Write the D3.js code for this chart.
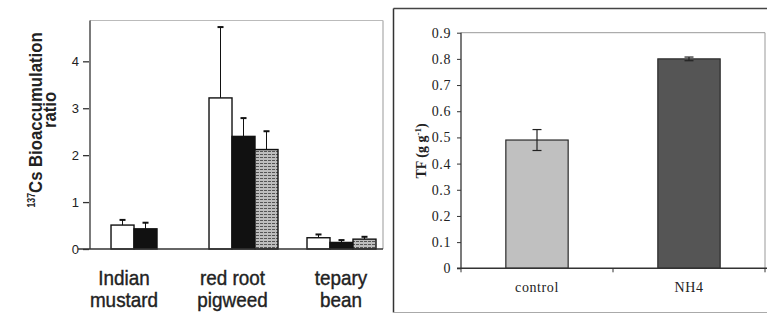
<!DOCTYPE html>
<html>
<head>
<meta charset="utf-8">
<script src="https://cdn.jsdelivr.net/npm/d3@7"></script>
<style>
  body { margin: 0; background: #fff; }
  svg { display: block; }
</style>
</head>
<body>
<svg id="chart"></svg>
<script>
// left panel data: 137Cs bioaccumulation ratio
var plants = ["Indian mustard", "red root pigweed", "tepary bean"];
var plantLines = [["Indian", "mustard"], ["red root", "pigweed"], ["tepary", "bean"]];
var seriesWhite = [0.51, 3.22, 0.24];
var seriesWhiteErr = [0.11, 1.51, 0.07];
var seriesBlack = [0.43, 2.40, 0.14];
var seriesBlackErr = [0.13, 0.39, 0.05];
var seriesGray = [null, 2.12, 0.21];
var seriesGrayErr = [null, 0.39, 0.05];
var leftTicks = [0, 1, 2, 3, 4];

// right panel data: TF
var treatments = ["control", "NH4"];
var tfValues = [0.49, 0.80];
var tfErr = [0.04, 0.007];
var rightTicks = [0, 0.1, 0.2, 0.3, 0.4, 0.5, 0.6, 0.7, 0.8, 0.9];

var width = 767, height = 314;
var svg = d3.select("#chart").attr("width", width).attr("height", height);

// ---------- left panel ----------
var left = {x0: 90, x1: 383, y0: 20.5, y1: 249};
var sans = "'Liberation Sans', Arial, sans-serif";

var defs = svg.append("defs");
var pat = defs.append("pattern")
    .attr("id", "dots")
    .attr("width", 4).attr("height", 3)
    .attr("patternUnits", "userSpaceOnUse");
pat.append("rect").attr("width", 4).attr("height", 3).attr("fill", "#bdbdbd");
pat.append("rect").attr("x", 0).attr("y", 1).attr("width", 3).attr("height", 1).attr("fill", "#555");

var yL = d3.scaleLinear().domain([0, 4.87]).range([left.y1, left.y0]);
var xL = d3.scaleBand().domain(plants).range([left.x0, left.x1])
    .paddingInner(0.296).paddingOuter(0.143).align(0.75);

var series = [
  {name: "a", values: seriesWhite, err: seriesWhiteErr, fill: "#fff"},
  {name: "b", values: seriesBlack, err: seriesBlackErr, fill: "#111"},
  {name: "c", values: seriesGray, err: seriesGrayErr, fill: "url(#dots)"}
];
var xSub = d3.scaleBand().domain(series.map(s => s.name)).range([0, xL.bandwidth()]);

// frame
var gl = svg.append("g");
gl.append("line").attr("x1", left.x0).attr("x2", left.x1).attr("y1", left.y0).attr("y2", left.y0)
    .attr("stroke", "#bbb").attr("stroke-width", 1.2);
gl.append("line").attr("x1", left.x1).attr("x2", left.x1).attr("y1", left.y0).attr("y2", left.y1)
    .attr("stroke", "#bbb").attr("stroke-width", 1.5);

var cells = [];
series.forEach(function(s) {
  plants.forEach(function(p, i) {
    if (s.values[i] !== null) cells.push({plant: p, s: s, v: s.values[i], e: s.err[i]});
  });
});

gl.selectAll("rect.bar").data(cells).enter().append("rect")
    .attr("class", "bar")
    .attr("x", d => xL(d.plant) + xSub(d.s.name))
    .attr("y", d => yL(d.v))
    .attr("width", xSub.bandwidth())
    .attr("height", d => yL(0) - yL(d.v))
    .attr("fill", d => d.s.fill)
    .attr("stroke", "#111")
    .attr("stroke-width", 1.4);

var errG = gl.selectAll("g.err").data(cells).enter().append("g").attr("class", "err")
    .attr("stroke", "#111").attr("stroke-width", 1);
errG.append("line")
    .attr("x1", d => xL(d.plant) + xSub(d.s.name) + xSub.bandwidth() / 2)
    .attr("x2", d => xL(d.plant) + xSub(d.s.name) + xSub.bandwidth() / 2)
    .attr("y1", d => yL(d.v))
    .attr("y2", d => yL(d.v + d.e));
errG.append("line")
    .attr("x1", d => xL(d.plant) + xSub(d.s.name) + xSub.bandwidth() / 2 - 3)
    .attr("x2", d => xL(d.plant) + xSub(d.s.name) + xSub.bandwidth() / 2 + 3)
    .attr("y1", d => yL(d.v + d.e))
    .attr("y2", d => yL(d.v + d.e))
    .attr("stroke-width", 2);

// axes
var yAxisL = gl.append("g")
    .attr("transform", `translate(${left.x0},0)`)
    .call(d3.axisLeft(yL).tickValues(leftTicks).tickSize(7).tickPadding(4).tickFormat(d3.format("d")));
yAxisL.select(".domain").attr("d", `M0,${left.y0}V${left.y1}`).attr("stroke", "#333").attr("stroke-width", 1.3);
yAxisL.selectAll(".tick line").attr("x1", -1).attr("stroke", "#333").attr("stroke-width", 1.3);
yAxisL.selectAll(".tick text").attr("font-family", sans).attr("font-size", 13).attr("fill", "#222");

gl.append("line").attr("x1", left.x0 - 12).attr("x2", left.x1).attr("y1", yL(0)).attr("y2", yL(0))
    .attr("stroke", "#333").attr("stroke-width", 1.5);

// category labels (condensed)
var xLab = d3.scalePoint().domain(plants).range([124, 341]);
var catL = gl.selectAll("text.cat").data(plants).enter().append("text")
    .attr("class", "cat")
    .attr("transform", d => `translate(${xLab(d)},0) scale(0.9,1)`)
    .attr("text-anchor", "middle")
    .attr("font-family", sans)
    .attr("font-size", 21)
    .attr("fill", "#222")
    .attr("stroke", "#222")
    .attr("stroke-width", 0.4);
catL.append("tspan").attr("x", 0).attr("y", 285).text((d, i) => plantLines[i][0]);
catL.append("tspan").attr("x", 0).attr("y", 307).text((d, i) => plantLines[i][1]);

// y title
var yt = gl.append("text")
    .attr("transform", "translate(42,120) rotate(-90) scale(0.88,1)")
    .attr("text-anchor", "middle")
    .attr("font-family", sans)
    .attr("font-weight", "bold")
    .attr("font-size", 19)
    .attr("fill", "#222");
yt.append("tspan").attr("font-size", 10).attr("dy", -7).text("137");
yt.append("tspan").attr("dy", 7).text("Cs Bioaccumulation");
gl.append("text")
    .attr("transform", "translate(56,110) rotate(-90) scale(0.88,1)")
    .attr("text-anchor", "middle")
    .attr("font-family", sans)
    .attr("font-weight", "bold")
    .attr("font-size", 19)
    .attr("fill", "#222")
    .text("ratio");

// ---------- right panel ----------
var serif = "'Liberation Serif', 'Times New Roman', Times, serif";
var right = {x0: 461, x1: 765, y0: 32.7, y1: 268.3};
var gr = svg.append("g");

// outer box
gr.append("line").attr("x1", 393.5).attr("x2", width).attr("y1", 8.5).attr("y2", 8.5)
    .attr("stroke", "#444").attr("stroke-width", 1.5);
gr.append("line").attr("x1", 393.5).attr("x2", 393.5).attr("y1", 8.5).attr("y2", 312.5)
    .attr("stroke", "#333").attr("stroke-width", 1.5);
gr.append("line").attr("x1", 393.5).attr("x2", width).attr("y1", 312.5).attr("y2", 312.5)
    .attr("stroke", "#aaa").attr("stroke-width", 1);

var yR = d3.scaleLinear().domain([0, 0.9]).range([right.y1, right.y0]);
var xR = d3.scaleBand().domain(treatments).range([right.x0, right.x1])
    .paddingInner(0.59).paddingOuter(0.295);

// plot frame top/right
gr.append("line").attr("x1", right.x0).attr("x2", right.x1).attr("y1", right.y0).attr("y2", right.y0)
    .attr("stroke", "#999").attr("stroke-width", 1);
gr.append("line").attr("x1", right.x1).attr("x2", right.x1).attr("y1", right.y0).attr("y2", right.y1)
    .attr("stroke", "#999").attr("stroke-width", 1);

var tfData = treatments.map((t, i) => ({t: t, v: tfValues[i], e: tfErr[i]}));
var tfFill = d3.scaleOrdinal().domain(treatments).range(["#c0c0c0", "#555555"]);

gr.selectAll("rect.tf").data(tfData).enter().append("rect")
    .attr("class", "tf")
    .attr("x", d => xR(d.t))
    .attr("y", d => yR(d.v))
    .attr("width", xR.bandwidth())
    .attr("height", d => yR(0) - yR(d.v))
    .attr("fill", d => tfFill(d.t))
    .attr("stroke", "#2a2a2a")
    .attr("stroke-width", 1.2);

var eg = gr.selectAll("g.tferr").data(tfData).enter().append("g").attr("class", "tferr")
    .attr("stroke", "#222").attr("stroke-width", 1.2);
eg.append("line")
    .attr("x1", d => xR(d.t) + xR.bandwidth() / 2).attr("x2", d => xR(d.t) + xR.bandwidth() / 2)
    .attr("y1", d => yR(d.v - d.e)).attr("y2", d => yR(d.v + d.e));
eg.append("line")
    .attr("x1", d => xR(d.t) + xR.bandwidth() / 2 - 4.5).attr("x2", d => xR(d.t) + xR.bandwidth() / 2 + 4.5)
    .attr("y1", d => yR(d.v + d.e)).attr("y2", d => yR(d.v + d.e));
eg.append("line")
    .attr("x1", d => xR(d.t) + xR.bandwidth() / 2 - 4.5).attr("x2", d => xR(d.t) + xR.bandwidth() / 2 + 4.5)
    .attr("y1", d => yR(d.v - d.e)).attr("y2", d => yR(d.v - d.e));

var yAxisR = gr.append("g")
    .attr("transform", `translate(${right.x0},0)`)
    .call(d3.axisLeft(yR).tickValues(rightTicks).tickSize(4).tickPadding(6)
      .tickFormat(d => d === 0 ? "0" : d3.format(".1f")(d)));
yAxisR.select(".domain").attr("d", `M0,${right.y0}V${right.y1}`).attr("stroke", "#333").attr("stroke-width", 1.3);
yAxisR.selectAll(".tick line").attr("stroke", "#333");
yAxisR.selectAll(".tick text").attr("font-family", serif).attr("font-size", 14)
    .attr("letter-spacing", 0.6).attr("fill", "#222");

// x axis
var xAxisR = gr.append("g").attr("transform", `translate(0,${right.y1})`);
xAxisR.append("line").attr("x1", right.x0 - 4).attr("x2", width).attr("stroke", "#333").attr("stroke-width", 1.5);
xAxisR.selectAll("line.tk").data([right.x0, (right.x0 + right.x1) / 2, right.x1]).enter().append("line")
    .attr("class", "tk")
    .attr("x1", d => d).attr("x2", d => d).attr("y1", 0).attr("y2", 4)
    .attr("stroke", "#333");
xAxisR.selectAll("text").data(treatments).enter().append("text")
    .attr("x", d => xR(d) + xR.bandwidth() / 2)
    .attr("y", 24)
    .attr("text-anchor", "middle")
    .attr("font-family", serif)
    .attr("font-size", 14)
    .attr("letter-spacing", 0.6)
    .attr("fill", "#222")
    .text(d => d);

// y title
var tt = gr.append("text")
    .attr("transform", "translate(426,151) rotate(-90)")
    .attr("text-anchor", "middle")
    .attr("font-family", serif)
    .attr("font-weight", "bold")
    .attr("font-size", 14)
    .attr("fill", "#222");
tt.append("tspan").text("TF  (g g");
tt.append("tspan").attr("font-size", 9).attr("dy", -5).text("-1");
tt.append("tspan").attr("dy", 5).text(")");
</script>
</body>
</html>
